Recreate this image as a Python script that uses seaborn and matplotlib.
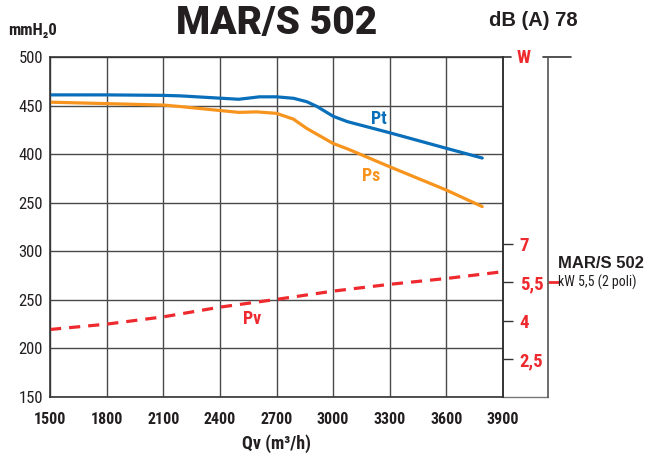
import matplotlib
matplotlib.use("Agg")
import matplotlib.pyplot as plt
import seaborn as sns
import pandas as pd

# dati
qv_pt = [1500, 1800, 2100, 2190, 2500, 2610, 2700, 2790, 2860, 2915, 3000, 3075, 3300, 3600, 3790]
pt = [461, 461, 460.5, 460, 456.5, 459, 459, 457.5, 454, 449, 439, 433.5, 422, 406, 396]
qv_ps = [1500, 1800, 2100, 2190, 2500, 2595, 2700, 2790, 2860, 3000, 3075, 3300, 3600, 3790]
ps = [453.5, 452, 450.5, 449, 443, 443.5, 442, 436, 426.5, 411, 405.5, 387, 363, 346]
qv_pv = [1500, 1800, 2100, 2400, 2700, 3000, 3300, 3600, 3900]
pv = [219.5, 225, 232.5, 242.5, 250.5, 259, 266, 272, 279]

x_ticks = [1500, 1800, 2100, 2400, 2700, 3000, 3300, 3600, 3900]
y_ticks = [500, 450, 400, 350, 300, 250, 200, 150]
y_labels = ["500", "450", "400", "250", "300", "250", "200", "150"]
w_ticks = [2.5, 4, 5.5, 7]
w_labels = ["2,5", "4", "5,5", "7"]

BLUE = "#0a6fba"
ORANGE = "#f7941d"
RED = "#ee2a2e"
DARK = "#231f20"

COND = ['Roboto Condensed', 'DejaVu Sans']
HELV = ['Liberation Sans', 'DejaVu Sans']

sns.set_theme(style="white")
plt.rcParams['font.family'] = COND

fig = plt.figure(figsize=(6.47, 4.61), dpi=100)
ax = fig.add_axes([50/647, 64/461, 453/647, 340/461])

df_pt = pd.DataFrame({"qv": qv_pt, "p": pt})
df_ps = pd.DataFrame({"qv": qv_ps, "p": ps})
df_pv = pd.DataFrame({"qv": qv_pv, "p": pv})
sns.lineplot(data=df_pt, x="qv", y="p", ax=ax, color=BLUE, linewidth=2.3, sort=False)
sns.lineplot(data=df_ps, x="qv", y="p", ax=ax, color=ORANGE, linewidth=2.3, sort=False)
sns.lineplot(data=df_pv, x="qv", y="p", ax=ax, color=RED, linewidth=2.3, sort=False,
             linestyle=(0, (3.5, 2.5)))

ax.set_xlim(1500, 3900)
ax.set_ylim(150, 500)
ax.set_xticks(x_ticks)
ax.set_xticklabels([str(v) for v in x_ticks], fontweight="bold", fontsize=11.5, color=DARK)
ax.set_yticks(y_ticks)
ax.set_yticklabels(y_labels, fontsize=12, color=DARK)
ax.tick_params(axis="both", length=0, pad=5)
ax.tick_params(axis="x", pad=11)
ax.grid(True, color="#4a4a4a", linewidth=1)
for s in ax.spines.values():
    s.set_color("#333333")
    s.set_linewidth(1.2)
ax.set_xlabel("Qv (m³/h)", fontweight="bold", fontsize=13, color=DARK, labelpad=5)
ax.set_ylabel("")

# etichette curve
ax.text(3240, 436, "Pt", color=BLUE, fontweight="bold", fontsize=13, ha="center", va="center")
ax.text(3200, 378, "Ps", color=ORANGE, fontweight="bold", fontsize=13, ha="center", va="center")
ax.text(2570, 230, "Pv", color=RED, fontweight="bold", fontsize=13, ha="center", va="center")

# asse potenza W
ax2 = ax.twinx()
ax2.set_ylim(1.02, 14.3)
ax2.set_yticks(w_ticks)
ax2.set_yticklabels(w_labels, color=RED, fontweight="bold", fontsize=13.5)
ax2.tick_params(axis="y", length=7, width=1, color="#333333", pad=5, direction="out")
for k, s in ax2.spines.items():
    s.set_visible(k == "right")
ax2.spines["right"].set_color("#333333")
ax2.spines["right"].set_linewidth(1.2)

ax3 = ax.twinx()
ax3.set_ylim(1.02, 14.3)
ax3.set_yticks([5.5])
ax3.set_yticklabels([""])
ax3.tick_params(axis="y", length=8, width=2, color=RED, direction="out")
ax3.spines["right"].set_position(("axes", 1 + 45/453))
for k, s in ax3.spines.items():
    s.set_visible(k == "right")
ax3.spines["right"].set_color("#555555")
ax3.spines["right"].set_linewidth(1.2)

ax.axhline(500, xmin=1, xmax=1 + 8/453, color="#333333", linewidth=1.2, clip_on=False)
ax.axhline(500, xmin=1 + 40/453, xmax=1 + 68/453, color="#333333", linewidth=1.2, clip_on=False)
ax.axhline(150, xmin=1, xmax=1 + 45/453, color="#777777", linewidth=1, clip_on=False)

fig.text(524/647, 1 - 58/461, "W", color=RED, fontweight="bold", fontsize=13.5, ha="center", va="center")
fig.text(558/647, 1 - 263/461, "MAR/S 502", color=DARK, fontweight="bold", fontsize=12,
         ha="left", va="center", family=HELV)
fig.text(558/647, 1 - 282/461, "kW 5,5 (2 poli)", color=DARK, fontsize=10, ha="left", va="center")

# titoli
fig.text(277/647, 1 - 23/461, "MAR/S 502", color=DARK, fontsize=28, fontweight=900,
         ha="center", va="center", family=['Roboto', 'DejaVu Sans'])
fig.text(533/647, 1 - 21/461, "dB (A) 78", color=DARK, fontweight="bold", fontsize=14.5,
         ha="center", va="center", family=HELV)
fig.text(8/647, 1 - 30/461, "mmH₂0", color=DARK, fontweight="bold", fontsize=12,
         ha="left", va="center")

fig.savefig("out.png", dpi=100)
